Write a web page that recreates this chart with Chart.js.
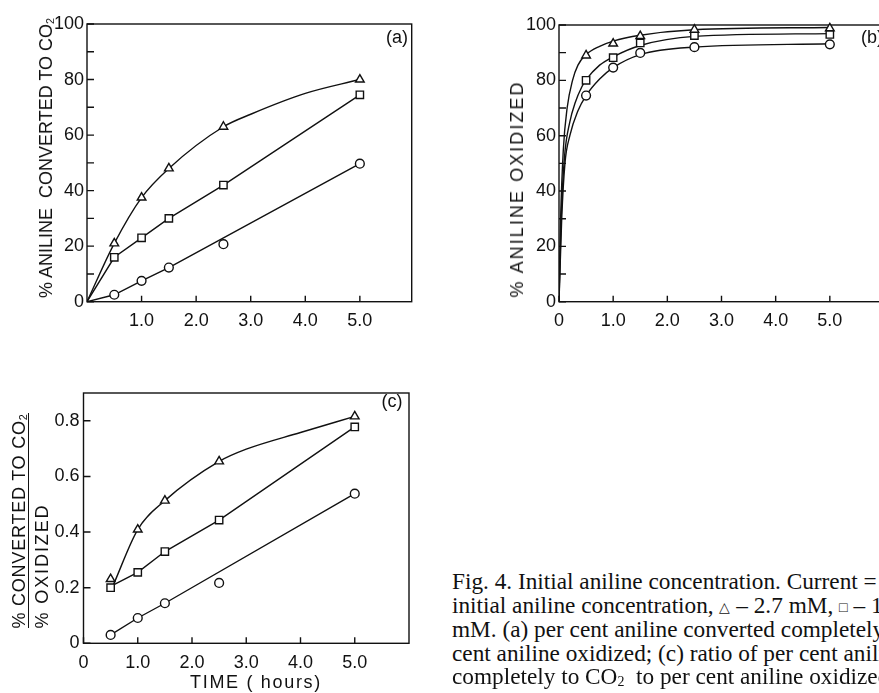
<!DOCTYPE html>
<html><head><meta charset="utf-8">
<script src="https://cdn.jsdelivr.net/npm/chart.js@4.4.1/dist/chart.umd.min.js"></script>
<style>
html,body{margin:0;padding:0;background:#fff;width:879px;height:693px;overflow:hidden;position:relative}
.box{position:absolute;overflow:visible}
.t{position:absolute;white-space:nowrap;color:#111;font-family:'Liberation Sans',Arial,sans-serif;line-height:1;font-size:18px}
.rot{transform:translate(-50%,-50%) rotate(-90deg)}
.hz{transform:translate(-50%,-50%)}
.cap{position:absolute;left:452px;white-space:nowrap;font-family:'Liberation Serif','Times New Roman',serif;font-size:19px;color:#111;line-height:1;transform:translateY(-50%)}
sub{font-size:0.6em;vertical-align:-0.15em;line-height:0}
.sym{font-size:0.62em;vertical-align:0.1em}
</style></head><body>
<div class="box" style="left:0;top:0;width:440px;height:345px"><canvas id="ca" width="440" height="345"></canvas></div>
<div class="box" style="left:440px;top:0;width:460px;height:345px"><canvas id="cb" width="460" height="345"></canvas></div>
<div class="box" style="left:0;top:330px;width:440px;height:363px"><canvas id="cc" width="440" height="363"></canvas></div>

<div class="t rot fit" data-w="280" style="left:45.5px;top:158px">% ANILINE&nbsp; CONVERTED TO CO<sub>2</sub></div>
<div class="t rot fit" data-w="217" style="left:517px;top:188.5px">% ANILINE OXIDIZED</div>
<div class="t rot fit" data-w="215" style="left:18.5px;top:520.5px">% CONVERTED TO CO<sub>2</sub></div>
<div style="position:absolute;left:27.5px;top:413px;width:1.3px;height:215px;background:#111"></div>
<div class="t rot fit" data-w="125" style="left:41.5px;top:565.5px">% OXIDIZED</div>
<div class="t hz fit" data-w="132" style="left:256px;top:682px">TIME ( hours)</div>
<div class="t hz" style="left:397px;top:37px">(a)</div>
<div class="t" style="left:861px;top:28px">(b)</div>
<div class="t hz" style="left:392px;top:401px">(c)</div>

<div class="cap" id="cap1" style="top:582px">Fig. 4. Initial aniline concentration. Current =</div>
<div class="cap" style="top:605.5px">initial aniline concentration, <span class="sym">△</span> – 2.7 mM, <span class="sym">□</span> – 1</div>
<div class="cap" style="top:629.5px">mM. (a) per cent aniline converted completely</div>
<div class="cap" style="top:653.5px">cent aniline oxidized; (c) ratio of per cent aniline</div>
<div class="cap" style="top:677px">completely to CO<sub>2</sub>&nbsp; to per cent aniline oxidized</div>

<script>
// ---------- data ----------
const times = [0.5, 1.0, 1.5, 2.5, 5.0];

// (a) % aniline converted to CO2
const aTri = [21, 37.5, 48, 63, 80];
const aSq = [16, 23, 30, 42, 74.5];
const aCirc = [2.5, 7.5, 12.3, 20.7, 49.7];
const aTriCurveX = [0, 0.5, 1.0, 1.5, 2.5, 3.0, 4.0, 5.0];
const aTriCurveY = [0, 21, 37.5, 48, 63, 67.5, 75, 80];
const aSqLineX = [0, 0.5, 1.0, 1.5, 2.5, 5.0];
const aSqLineY = [0, 16, 23, 30, 42, 74.5];
const aCircLineX = [0, 0.5, 1.0, 1.5, 5.0];
const aCircLineY = [0, 2.5, 7.5, 12.3, 49.7];
const aXTicks = [1, 2, 3, 4, 5];
const aXLabels = ['1.0', '2.0', '3.0', '4.0', '5.0'];
const aYTicks = [0, 20, 40, 60, 80, 100];
const aYLabels = ['0', '20', '40', '60', '80', '100'];
const aYMinor = [10, 30, 50, 70, 90];

// (b) % aniline oxidized
const bTri = [89, 93.3, 96, 98.3, 98.8];
const bSq = [80, 88.2, 93.5, 96.2, 96.6];
const bCirc = [74.5, 84.6, 89.9, 92, 93];
const bTriCurveX = [0, 0.03, 0.08, 0.15, 0.25, 0.35, 0.5, 0.75, 1.0, 1.5, 2.5, 5.0];
const bTriCurveY = [0, 30, 55, 70, 80, 85.5, 89.3, 92.3, 94.2, 96.3, 98.3, 99.1];
const bSqCurveX = [0, 0.04, 0.1, 0.2, 0.3, 0.42, 0.5, 0.75, 1.0, 1.5, 2.5, 5.0];
const bSqCurveY = [0, 30, 52, 65, 72, 77.6, 80.2, 85.5, 88.5, 92.6, 95.9, 96.9];
const bCircCurveX = [0, 0.05, 0.11, 0.2, 0.35, 0.5, 0.75, 1.0, 1.5, 2.5, 5.0];
const bCircCurveY = [0, 30, 50, 60, 69, 74.5, 80.5, 84.6, 89.3, 92, 93.2];
const bXTicks = [0, 1, 2, 3, 4, 5];
const bXLabels = ['0', '1.0', '2.0', '3.0', '4.0', '5.0'];
const bYTicks = [0, 20, 40, 60, 80, 100];
const bYLabels = ['0', '20', '40', '60', '80', '100'];
const bYMinor = [10, 30, 50, 70, 90];

// (c) ratio converted / oxidized
const cTri = [0.231, 0.409, 0.513, 0.654, 0.816];
const cSq = [0.2, 0.255, 0.33, 0.443, 0.778];
const cCirc = [0.03, 0.091, 0.144, 0.217, 0.538];
const cTriCurveX = [0.55, 1.0, 1.5, 2.5, 3.0, 4.0, 5.0];
const cTriCurveY = [0.21, 0.409, 0.513, 0.654, 0.698, 0.758, 0.816];
const cSqLineX = [0.5, 1.0, 1.5, 2.5, 5.0];
const cSqLineY = [0.205, 0.255, 0.33, 0.443, 0.778];
const cCircLineX = [0.5, 1.0, 1.5, 5.0];
const cCircLineY = [0.03, 0.091, 0.144, 0.538];
const cXTicks = [0, 1, 2, 3, 4, 5];
const cXLabels = ['0', '1.0', '2.0', '3.0', '4.0', '5.0'];
const cYTicks = [0, 0.2, 0.4, 0.6, 0.8];
const cYLabels = ['0', '0.2', '0.4', '0.6', '0.8'];

// ---------- helpers ----------
const INK = '#111';
const FONT = "'Liberation Sans', Arial, sans-serif";
const pts = (xs, ys) => xs.map((x, i) => ({x: x, y: ys[i]}));

function markerSet(ys, style, r) {
  return {data: pts(times, ys), showLine: false, pointStyle: style, pointRadius: r,
    pointBackgroundColor: '#fff', pointBorderColor: INK, pointBorderWidth: 1.4, clip: 8};
}
function lineSet(xs, ys, smooth) {
  return {data: pts(xs, ys), showLine: true, pointRadius: 0, borderColor: INK, borderWidth: 1.4,
    tension: smooth ? 0.4 : 0, cubicInterpolationMode: smooth ? 'monotone' : 'default', fill: false};
}

const framePlugin = {
  id: 'frameTicks',
  beforeDatasetsDraw(chart, args, o) {
    const ctx = chart.ctx, a = chart.chartArea, xs = chart.scales.x, ys = chart.scales.y;
    ctx.save();
    ctx.strokeStyle = INK; ctx.lineWidth = 1.4;
    ctx.strokeRect(a.left, a.top, a.right - a.left, a.bottom - a.top);
    ctx.beginPath();
    (o.xt || []).forEach(v => { const p = xs.getPixelForValue(v); ctx.moveTo(p, a.bottom); ctx.lineTo(p, a.bottom - 6); });
    (o.yt || []).forEach(v => { const p = ys.getPixelForValue(v); ctx.moveTo(a.left, p); ctx.lineTo(a.left + 7, p); });
    ctx.stroke();
    ctx.restore();
  }
};

function makeChart(id, cfg) {
  const scales = {
    x: {type: 'linear', min: cfg.xmin, max: cfg.xmax,
      afterBuildTicks: s => { s.ticks = cfg.xTicks.map(v => ({value: v})); },
      afterFit: s => { s.height = cfg.xh; },
      grid: {display: false, drawTicks: false}, border: {display: false},
      ticks: {autoSkip: false, maxRotation: 0, minRotation: 0, padding: cfg.xpad, color: INK,
        font: {family: FONT, size: 18}, callback: (v, i) => cfg.xLabels[i]}},
    y: {type: 'linear', min: cfg.ymin, max: cfg.ymax,
      afterBuildTicks: s => { s.ticks = cfg.yTicks.map(v => ({value: v})); },
      afterFit: s => { s.width = cfg.yw; },
      grid: {display: false, drawTicks: false}, border: {display: false},
      ticks: {autoSkip: false, padding: cfg.ypad, color: INK,
        font: {family: FONT, size: 18}, callback: (v, i) => cfg.yLabels[i]}}
  };
  return new Chart(document.getElementById(id), {
    type: 'scatter',
    data: {datasets: cfg.datasets},
    options: {
      responsive: false, animation: false, events: [],
      layout: {padding: cfg.pad},
      scales: scales,
      plugins: {legend: {display: false}, tooltip: {enabled: false},
        frameTicks: {xt: cfg.xTicks, yt: cfg.yTicks.concat(cfg.yMinor || [])}}
    },
    plugins: [framePlugin]
  });
}

makeChart('ca', {
  xmin: 0, xmax: 5.95, ymin: 0, ymax: 100, xTicks: aXTicks, xLabels: aXLabels,
  yTicks: aYTicks, yLabels: aYLabels, yMinor: aYMinor,
  pad: {left: 0, top: 24, right: 28.3, bottom: 0}, yw: 87, xh: 43.3, xpad: 9, ypad: 3,
  datasets: [markerSet(aTri, 'triangle', 5), markerSet(aSq, 'rect', 5.2), markerSet(aCirc, 'circle', 4.4),
    lineSet(aTriCurveX, aTriCurveY, true), lineSet(aSqLineX, aSqLineY, false), lineSet(aCircLineX, aCircLineY, false)]
});

makeChart('cb', {
  xmin: 0, xmax: 6, ymin: 0, ymax: 100, xTicks: bXTicks, xLabels: bXLabels,
  yTicks: bYTicks, yLabels: bYLabels, yMinor: bYMinor,
  pad: {left: 0, top: 25, right: 16, bottom: 0}, yw: 119, xh: 43.3, xpad: 9, ypad: 3,
  datasets: [markerSet(bTri, 'triangle', 5), markerSet(bSq, 'rect', 5.2), markerSet(bCirc, 'circle', 4.4),
    lineSet(bTriCurveX, bTriCurveY, true), lineSet(bSqCurveX, bSqCurveY, true), lineSet(bCircCurveX, bCircCurveY, true)]
});

makeChart('cc', {
  xmin: 0, xmax: 6, ymin: 0, ymax: 0.9, xTicks: cXTicks, xLabels: cXLabels,
  yTicks: cYTicks, yLabels: cYLabels, yMinor: [],
  pad: {left: 0, top: 63, right: 31, bottom: 0}, yw: 83.5, xh: 49.7, xpad: 9, ypad: 4,
  datasets: [markerSet(cTri, 'triangle', 5), markerSet(cSq, 'rect', 5.2), markerSet(cCirc, 'circle', 4.4),
    lineSet(cTriCurveX, cTriCurveY, true), lineSet(cSqLineX, cSqLineY, false), lineSet(cCircLineX, cCircLineY, false)]
});

// fit text widths with letter spacing
document.querySelectorAll('.fit').forEach(el => {
  const target = +el.dataset.w;
  const n = el.textContent.length;
  el.style.letterSpacing = '0px';
  const w = el.offsetWidth;
  el.style.letterSpacing = ((target - w) / n).toFixed(2) + 'px';
});
(function () {
  const c = document.getElementById('cap1');
  const w = c.offsetWidth;
  const fs = 19 * 425 / w;
  document.querySelectorAll('.cap').forEach(e => { e.style.fontSize = fs.toFixed(2) + 'px'; });
})();
</script>
</body></html>
